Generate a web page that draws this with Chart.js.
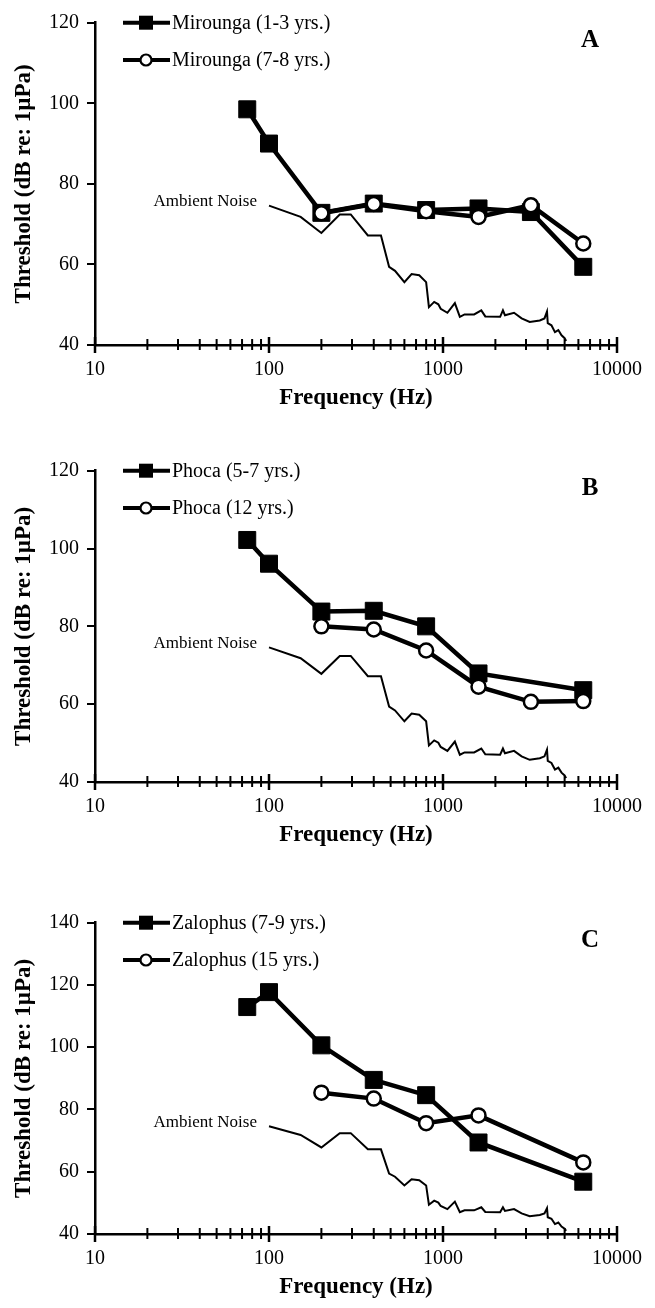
<!DOCTYPE html>
<html>
<head>
<meta charset="utf-8">
<script src="https://cdn.jsdelivr.net/npm/chart.js@4.4.1/dist/chart.umd.min.js"></script>
<style>
  body { margin: 0; background: #fff; width: 655px; height: 1308px; position: relative; overflow: hidden; }
  .panel { position: absolute; left: 0; width: 655px; }
</style>
</head>
<body>
<div class="panel" style="top:0px;height:414px"><canvas id="chartA"></canvas></div>
<div class="panel" style="top:448px;height:403px"><canvas id="chartB"></canvas></div>
<div class="panel" style="top:900px;height:403px"><canvas id="chartC"></canvas></div>
<script>
// --- data ---
const noiseFreq = [100, 152, 200, 255, 295, 370, 440, 490, 530, 600, 660, 730, 800, 830, 890, 940, 970,
  1060, 1170, 1250, 1330, 1510, 1660, 1750, 2130, 2210, 2270, 2560, 2830, 3150, 3600, 3830, 3960,
  4000, 4200, 4400, 4600, 4800, 5000, 5100];
const noiseLevel = [74.6, 71.8, 67.8, 72.4, 72.4, 67.2, 67.2, 59.4, 58.4, 55.6, 57.6, 57.3, 55.6, 49.4, 50.7, 50.1, 49.0,
  48.0, 50.4, 47.0, 47.6, 47.6, 48.6, 47.1, 47.0, 48.6, 47.4, 48.0, 46.6, 45.7, 46.1, 46.6, 48.3,
  45.4, 44.9, 43.2, 43.7, 42.4, 41.7, 41.0];

const freqYoung = [75, 100, 200, 400, 800, 1600, 3200, 6400];
const mirounga13 = [98.5, 90.0, 72.8, 75.1, 73.5, 73.9, 73.0, 59.4];
const freqMir78 = [200, 400, 800, 1600, 3200, 6400];
const mirounga78 = [72.7, 75.0, 73.2, 71.8, 74.7, 65.2];

const freqPhoca57 = [75, 100, 200, 400, 800, 1600, 6400];
const phoca57 = [102.2, 96.1, 83.8, 84.0, 80.0, 67.9, 63.6];
const freqPhoca12 = [200, 400, 800, 1600, 3200, 6400];
const phoca12 = [80.0, 79.2, 73.8, 64.5, 60.6, 60.8];

const freqZal79 = [75, 100, 200, 400, 800, 1600, 6400];
const zalophus79 = [112.9, 117.7, 100.6, 89.5, 84.6, 69.4, 56.8];
const freqZal15 = [200, 400, 800, 1600, 6400];
const zalophus15 = [85.4, 83.5, 75.6, 78.1, 63.0];

const decadeTicks = [10, 100, 1000, 10000];
const minorTicks = [20, 30, 40, 50, 60, 70, 80, 90, 200, 300, 400, 500, 600, 700, 800, 900,
  2000, 3000, 4000, 5000, 6000, 7000, 8000, 9000];

const SERIF = "'Liberation Serif', 'Times New Roman', 'DejaVu Serif', serif";

function pts(xs, ys) {
  return xs.map((x, i) => ({ x: x, y: ys[i] }));
}

const squareStyle = { pointStyle: 'rect', pointRadius: 12, pointBackgroundColor: '#000', pointBorderColor: '#000', pointBorderWidth: 1 };
const circleStyle = { pointStyle: 'circle', pointRadius: 7, pointBackgroundColor: '#fff', pointBorderColor: '#000', pointBorderWidth: 2.5 };

// draws the crossing x ticks, legend, panel letter and noise label
const decorPlugin = {
  id: 'decor',
  afterDraw(chart, args, opts) {
    const ctx = chart.ctx;
    const xs = chart.scales.x;
    const area = chart.chartArea;
    const yAxis = area.bottom;
    ctx.save();
    ctx.strokeStyle = '#000';
    ctx.lineWidth = 2;
    minorTicks.forEach(v => {
      const px = xs.getPixelForValue(v);
      ctx.beginPath(); ctx.moveTo(px, yAxis - 6); ctx.lineTo(px, yAxis + 5); ctx.stroke();
    });
    ctx.lineWidth = 2.5;
    decadeTicks.forEach(v => {
      const px = xs.getPixelForValue(v);
      ctx.beginPath(); ctx.moveTo(px, yAxis - 8); ctx.lineTo(px, yAxis + 8); ctx.stroke();
    });

    // legend
    opts.legend.forEach((item, i) => {
      const y = area.top + i * 37.3;
      ctx.lineWidth = 4;
      ctx.strokeStyle = '#000';
      ctx.beginPath(); ctx.moveTo(123, y); ctx.lineTo(170, y); ctx.stroke();
      if (item.square) {
        ctx.fillStyle = '#000';
        ctx.fillRect(146 - 7, y - 7, 14, 14);
      } else {
        ctx.fillStyle = '#fff';
        ctx.lineWidth = 2.2;
        ctx.beginPath(); ctx.arc(146, y, 5.5, 0, Math.PI * 2); ctx.fill(); ctx.stroke();
      }
      ctx.fillStyle = '#000';
      ctx.font = '20px ' + SERIF;
      ctx.textAlign = 'left';
      ctx.textBaseline = 'middle';
      ctx.fillText(item.text, 172, y + 1);
    });

    // panel letter
    ctx.font = 'bold 25px ' + SERIF;
    ctx.textAlign = 'center';
    ctx.textBaseline = 'middle';
    ctx.fillText(opts.letter, 590, area.top + 18);

    // ambient noise label next to the start of the noise curve
    const ys = chart.scales.y;
    const nx = xs.getPixelForValue(noiseFreq[0]);
    const ny = ys.getPixelForValue(noiseLevel[0]);
    ctx.font = '17px ' + SERIF;
    ctx.textAlign = 'right';
    ctx.fillText('Ambient Noise', nx - 12, ny - 4);
    ctx.restore();
  }
};

function makePanel(canvasId, yMax, squareSet, circleSet, letter) {
  return new Chart(document.getElementById(canvasId), {
    type: 'line',
    data: {
      datasets: [
        {
          label: 'Ambient Noise',
          data: pts(noiseFreq, noiseLevel),
          borderColor: '#000', borderWidth: 2, pointRadius: 0, tension: 0, order: 3
        },
        Object.assign({
          label: squareSet.label,
          data: pts(squareSet.x, squareSet.y),
          borderColor: '#000', borderWidth: 4.5, tension: 0, order: 2
        }, squareStyle),
        Object.assign({
          label: circleSet.label,
          data: pts(circleSet.x, circleSet.y),
          borderColor: '#000', borderWidth: 4.5, tension: 0, order: 1
        }, circleStyle)
      ]
    },
    options: {
      responsive: true,
      maintainAspectRatio: false,
      animation: false,
      layout: { padding: { top: 22.7, right: 30, left: 0, bottom: 0 } },
      plugins: {
        legend: { display: false },
        tooltip: { enabled: false },
        decor: {
          letter: letter,
          legend: [{ text: squareSet.label, square: true }, { text: circleSet.label, square: false }]
        }
      },
      scales: {
        x: {
          type: 'logarithmic',
          min: 10, max: 10000,
          afterFit: s => { s.height = 69; },
          grid: { display: false, drawTicks: false },
          border: { display: true, color: '#000', width: 2.5 },
          ticks: {
            autoSkip: false, maxRotation: 0, minRotation: 0, padding: 13,
            color: '#000', font: { family: SERIF, size: 20 },
            callback: v => decadeTicks.includes(v) ? String(v) : ''
          },
          title: {
            display: true, text: 'Frequency (Hz)', color: '#000',
            font: { family: SERIF, size: 23, weight: 'bold' }, padding: { top: 0, bottom: 2 }
          }
        },
        y: {
          min: 40, max: yMax,
          afterFit: s => { s.width = 95; },
          grid: { display: true, drawOnChartArea: false, drawTicks: true, tickLength: 8, color: '#000', lineWidth: 2 },
          border: { display: true, color: '#000', width: 2.5 },
          ticks: { stepSize: 20, padding: 8, color: '#000', font: { family: SERIF, size: 20 } },
          title: {
            display: true, text: 'Threshold (dB re: 1µPa)', color: '#000',
            font: { family: SERIF, size: 23, weight: 'bold' }, padding: { top: 10, bottom: 0 }
          }
        }
      }
    },
    plugins: [decorPlugin]
  });
}

makePanel('chartA', 120,
  { label: 'Mirounga (1-3 yrs.)', x: freqYoung, y: mirounga13 },
  { label: 'Mirounga (7-8 yrs.)', x: freqMir78, y: mirounga78 }, 'A');
makePanel('chartB', 120,
  { label: 'Phoca (5-7 yrs.)', x: freqPhoca57, y: phoca57 },
  { label: 'Phoca (12 yrs.)', x: freqPhoca12, y: phoca12 }, 'B');
makePanel('chartC', 140,
  { label: 'Zalophus (7-9 yrs.)', x: freqZal79, y: zalophus79 },
  { label: 'Zalophus (15 yrs.)', x: freqZal15, y: zalophus15 }, 'C');
</script>
</body>
</html>
